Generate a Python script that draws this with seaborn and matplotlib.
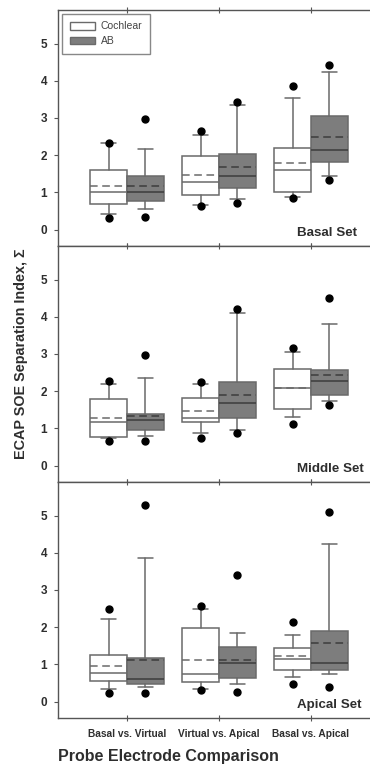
import matplotlib
matplotlib.use("Agg")
import matplotlib.pyplot as plt
from matplotlib.patches import Patch
import seaborn as sns
import numpy as np

# ---------------- data ----------------
categories = ["Basal vs. Virtual", "Virtual vs. Apical", "Basal vs. Apical"]
panels = ["Basal Set", "Middle Set", "Apical Set"]
devices = ["Cochlear", "AB"]

# each list: one row per panel (Basal, Middle, Apical), one value per category
coch_low_dot = [[0.32, 0.63, 0.85], [0.66, 0.74, 1.12], [0.23, 0.31, 0.48]]
coch_whislo  = [[0.43, 0.67, 0.88], [0.75, 0.87, 1.30], [0.34, 0.34, 0.65]]
coch_q1      = [[0.70, 0.94, 1.00], [0.78, 1.17, 1.53], [0.56, 0.53, 0.86]]
coch_med     = [[1.01, 1.28, 1.61], [1.16, 1.28, 2.08], [0.78, 0.75, 1.14]]
coch_mean    = [[1.18, 1.48, 1.79], [1.28, 1.48, 2.08], [0.97, 1.13, 1.22]]
coch_q3      = [[1.61, 1.98, 2.18], [1.78, 1.81, 2.59], [1.26, 1.97, 1.44]]
coch_whishi  = [[2.32, 2.53, 3.53], [2.18, 2.19, 3.04], [2.21, 2.50, 1.80]]
coch_high_dot = [[2.32, 2.64, 3.86], [2.26, 2.25, 3.17], [2.48, 2.57, 2.15]]

ab_low_dot = [[0.35, 0.72, 1.33], [0.65, 0.88, 1.62], [0.24, 0.27, 0.39]]
ab_whislo  = [[0.56, 0.83, 1.43], [0.79, 0.97, 1.73], [0.38, 0.47, 0.74]]
ab_q1      = [[0.77, 1.12, 1.82], [0.96, 1.28, 1.90], [0.47, 0.64, 0.85]]
ab_med     = [[1.01, 1.43, 2.13], [1.23, 1.68, 2.28], [0.61, 1.05, 1.04]]
ab_mean    = [[1.17, 1.68, 2.48], [1.33, 1.90, 2.43], [1.11, 1.13, 1.58]]
ab_q3      = [[1.44, 2.04, 3.05], [1.40, 2.25, 2.57], [1.18, 1.47, 1.89]]
ab_whishi  = [[2.17, 3.36, 4.23], [2.36, 4.10, 3.80], [3.86, 1.84, 4.24]]
ab_high_dot = [[2.96, 3.44, 4.41], [2.97, 4.21, 4.49], [5.27, 3.39, 5.09]]

y_ticks = [0, 1, 2, 3, 4, 5]

# ---------------- styling ----------------
sns.set_theme(style="ticks")
plt.rcParams["font.family"] = ["Liberation Sans", "DejaVu Sans"]
plt.rcParams["font.weight"] = "bold"

EDGE = "#6a6a6a"
AB_FILL = "#7d7d7d"
AB_LINE = "#3c3c3c"
SPINE = "#555555"
TXT = "#2e2e2e"

W, H = 370, 768
fig = plt.figure(figsize=(W / 100, H / 100), dpi=100)

left_px, right_px = 58, 380
top_px, panel_px = 10, 236


def stats_for(pi, ci, lo, wl, q1, md, mn, q3, wh, hi):
    return dict(whislo=wl[pi][ci], q1=q1[pi][ci], med=md[pi][ci], mean=mn[pi][ci],
                q3=q3[pi][ci], whishi=wh[pi][ci],
                fliers=np.array([lo[pi][ci], hi[pi][ci]]), label=categories[ci])


coch_arrays = (coch_low_dot, coch_whislo, coch_q1, coch_med, coch_mean, coch_q3, coch_whishi, coch_high_dot)
ab_arrays = (ab_low_dot, ab_whislo, ab_q1, ab_med, ab_mean, ab_q3, ab_whishi, ab_high_dot)

xpos = np.arange(len(categories))
axes = []
for pi, pname in enumerate(panels):
    t = top_px + pi * panel_px
    ax = fig.add_axes([left_px / W, 1 - (t + panel_px) / H,
                       (right_px - left_px) / W, panel_px / H])
    axes.append(ax)
    ax.set_facecolor("white")

    for dev, arrs, offs in (("Cochlear", coch_arrays, -0.2), ("AB", ab_arrays, 0.2)):
        stats = [stats_for(pi, ci, *arrs) for ci in range(len(categories))]
        is_ab = dev == "AB"
        ax.bxp(stats, positions=xpos + offs, widths=0.4, capwidths=0.16,
               patch_artist=True, showmeans=True, meanline=True, manage_ticks=False,
               boxprops=dict(facecolor=AB_FILL if is_ab else "white", edgecolor=EDGE, linewidth=1.1),
               medianprops=dict(color=AB_LINE if is_ab else EDGE, linewidth=1.1),
               meanprops=dict(color=AB_LINE if is_ab else EDGE, linewidth=1.1, linestyle=(0, (5, 3))),
               whiskerprops=dict(color=EDGE, linewidth=1.1),
               capprops=dict(color=EDGE, linewidth=1.1),
               flierprops=dict(marker="o", markerfacecolor="black", markeredgecolor="black",
                               markersize=5, linestyle="none"))

    ax.set_xlim(-0.75, 2.75)
    ax.set_ylim(-0.44, 5.9)
    ax.set_yticks(y_ticks)
    ax.set_yticklabels([str(v) for v in y_ticks], fontsize=8.5, fontweight="bold", color=TXT)
    ax.set_xticks(xpos)
    ax.tick_params(axis="y", direction="out", length=3, width=0.8, color=SPINE, pad=5)
    ax.tick_params(axis="x", direction="inout", length=4, width=0.8, color=SPINE,
                   top=True, bottom=True, pad=6)
    for s in ax.spines.values():
        s.set_color(SPINE)
        s.set_linewidth(1.0)
    if pi < len(panels) - 1:
        ax.set_xticklabels([])
    else:
        ax.set_xticklabels(categories, fontsize=7.3, fontweight="bold", color=TXT)

    ax.text(0.742, 0.055, pname, transform=ax.transAxes, ha="left", va="center",
            fontsize=9.6, fontweight="bold", color=TXT)

# legend in top panel
handles = [Patch(facecolor="white", edgecolor=EDGE, linewidth=1.0, label=devices[0]),
           Patch(facecolor=AB_FILL, edgecolor=EDGE, linewidth=1.0, label=devices[1])]
leg = axes[0].legend(handles=handles, loc="upper left", bbox_to_anchor=(0.012, 0.985),
                     frameon=True, fancybox=False, edgecolor=EDGE, fontsize=7.5,
                     handlelength=2.4, handleheight=0.75, borderpad=0.75, labelspacing=0.45,
                     handletextpad=0.6, borderaxespad=0.0)
leg.get_frame().set_linewidth(1.0)
for txt in leg.get_texts():
    txt.set_fontweight("normal")
    txt.set_color("#444444")

fig.text(21 / W, 1 - 354 / H, "ECAP SOE Separation Index, \u03a3", rotation=90,
         ha="center", va="center", fontsize=10.4, fontweight="bold", color=TXT)
fig.text(168 / W, 1 - 757 / H, "Probe Electrode Comparison",
         ha="center", va="center", fontsize=11.5, fontweight="bold", color=TXT)

fig.savefig("out.png", dpi=100, facecolor="white")
